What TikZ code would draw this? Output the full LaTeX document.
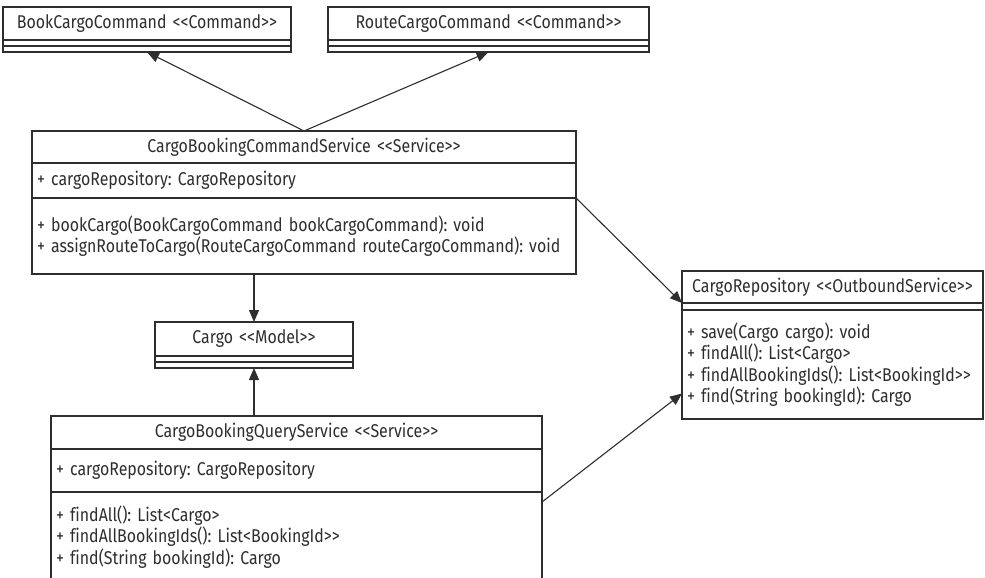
\documentclass[tikz,border=0pt]{standalone}
\usepackage{fontspec}
\setmainfont{Fira Sans}[FakeStretch=0.86,Ligatures=NoCommon]
\usetikzlibrary{positioning,arrows.meta,calc}
\definecolor{fgcolor}{HTML}{2E2E2E}
\definecolor{bgcolor}{HTML}{FFFFFF}
\newcommand\lt{\textless\kern0pt}
\newcommand\gt{\textgreater\kern0pt}
\newcommand\stereo[1]{\lt\lt#1\gt\gt}
\def\W{985}
\def\H{578}
\frenchspacing

\begin{document}
\begin{tikzpicture}[x=1pt,y=-1pt,
  font=\fontsize{18.5}{21.5}\selectfont,
  box/.style={draw=fgcolor,text=fgcolor,line width=1.2pt,
    inner xsep=5pt,inner ysep=0pt,outer sep=0pt},
  head/.style 2 args={box,anchor=north west,text width=#1pt-10pt,
    minimum height=#2pt,align=center},
  part/.style 2 args={box,below=0pt of #1,text width=#2pt-10pt,
    minimum height=0pt,align=left},
  dep/.style={draw=fgcolor,line width=1.1pt,-{Triangle[length=12pt,width=10pt]}}]
\clip (0,0) rectangle (\W,\H);
\fill[bgcolor] (0,0) rectangle (\W,\H);

% commands
\node[head={288}{33}] (book) at (3,7) {BookCargoCommand \stereo{Command}};
\node[part={book}{288},minimum height=6pt] (book-a) {};
\node[part={book-a}{288},minimum height=6pt] (book-m) {};

\node[head={321}{33}] (route) at (328,7) {RouteCargoCommand \stereo{Command}};
\node[part={route}{321},minimum height=6pt] (route-a) {};
\node[part={route-a}{321},minimum height=6pt] (route-m) {};

% command service
\node[head={544}{32}] (cmdsvc) at (32,131) {CargoBookingCommandService \stereo{Service}};
\node[part={cmdsvc}{544},minimum height=35pt] (cmdsvc-a) {+ cargoRepository: CargoRepository};
\node[part={cmdsvc-a}{544},minimum height=76pt] (cmdsvc-m)
  {+ bookCargo(BookCargoCommand bookCargoCommand): void\\
   + assignRouteToCargo(RouteCargoCommand routeCargoCommand): void};

% model
\node[head={198}{34}] (cargo) at (155,322) {Cargo \stereo{Model}};
\node[part={cargo}{198},minimum height=6pt] (cargo-a) {};
\node[part={cargo-a}{198},minimum height=6pt] (cargo-m) {};

% query service
\node[head={491}{33}] (qrysvc) at (51,416) {CargoBookingQueryService \stereo{Service}};
\node[part={qrysvc}{491},minimum height=43pt] (qrysvc-a) {+ cargoRepository: CargoRepository};
\node[part={qrysvc-a}{491},minimum height=90pt] (qrysvc-m)
  {+ findAll(): List\lt Cargo\gt\\
   + findAllBookingIds(): List\lt BookingId\gt\gt\\
   + find(String bookingId): Cargo};

% repository
\node[head={301}{32}] (repo) at (682,271) {CargoRepository \stereo{OutboundService}};
\node[part={repo}{301},minimum height=7pt] (repo-a) {};
\node[part={repo-a}{301},minimum height=109pt] (repo-m)
  {+ save(Cargo cargo): void\\
   + findAll(): List\lt Cargo\gt\\
   + findAllBookingIds(): List\lt BookingId\gt\gt\\
   + find(String bookingId): Cargo};

\coordinate (qrysvc-out) at ($(qrysvc-m.north east)+(0,10)$);
\coordinate (repo-in) at ($(repo-m.west)+(0,29)$);

\draw[dep] (cmdsvc.north) -- (book-m.south);
\draw[dep] (cmdsvc.north) -- (route-m.south);
\draw[dep] (cmdsvc-m.south -| cargo.north) -- (cargo.north);
\draw[dep] (qrysvc.north -| cargo.north) -- (cargo-m.south);
\draw[dep] (cmdsvc-m.north east) -- (repo.south west);
\draw[dep] (qrysvc-out) -- (repo-in);
\end{tikzpicture}
\end{document}
